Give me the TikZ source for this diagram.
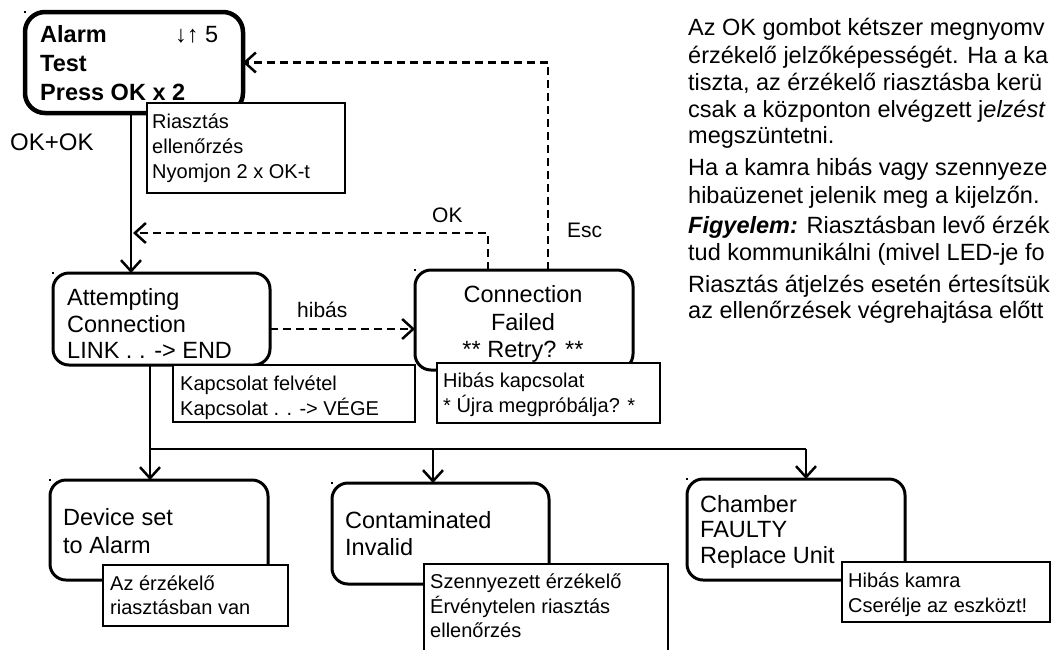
\documentclass[tikz,border=0pt]{standalone}
\usepackage{fontspec}
\setmainfont{Liberation Sans}
\usetikzlibrary{arrows.meta,calc}
\begin{document}
\begin{tikzpicture}[x=1pt,y=-1pt,
  statebox/.style={draw,line width=3pt,rounded corners=16pt,anchor=north west,inner sep=0pt,outer sep=0pt},
  notebox/.style={draw,fill=white,line width=2pt,anchor=north west,inner sep=0pt,outer sep=0pt},
  txt/.style={anchor=base west,inner sep=0pt,font=\fontsize{23.5}{27}\selectfont},
  ctxt/.style={anchor=base,inner sep=0pt,font=\fontsize{23.5}{27}\selectfont},
  ntxt/.style={anchor=base west,inner sep=0pt,font=\fontsize{20}{25}\selectfont},
  lbl/.style={anchor=base west,inner sep=0pt,font=\fontsize{21}{25}\selectfont},
  conn/.style={line width=2.5pt,-{Straight Barb[length=11pt,width=20pt]}},
  dconn/.style={conn,dash pattern=on 8pt off 5pt},
  bus/.style={line width=2.5pt},
  corner/.style={fill=black}
]
\fill[white] (0,0) rectangle (1052,649);
\useasboundingbox (0,0) rectangle (1052,649);

% ---- state boxes ----
\node[statebox,line width=4.5pt,rounded corners=20pt,minimum width=218pt,minimum height=101pt] (alarm) at (25,12) {};
\node[statebox,minimum width=217pt,minimum height=92pt] (att) at (53,273) {};
\node[statebox,minimum width=218pt,minimum height=100pt] (fail) at (415,270) {};
\node[statebox,minimum width=218pt,minimum height=100pt] (dev) at (50,480) {};
\node[statebox,minimum width=217pt,minimum height=101pt] (cont) at (332,483) {};
\node[statebox,minimum width=218pt,minimum height=101pt] (cham) at (687,479) {};

% corner marks
\foreach \b in {alarm,att,fail,dev,cont,cham}
  \fill[corner] ($(\b.north west)+(-1.5,-1.5)$) rectangle ++(2.5,2.5);

% ---- connector coordinates ----
\coordinate (vx) at (131,0);
\coordinate (okx) at (488,0);
\coordinate (escx) at (548,0);
\coordinate (oky) at (0,233);
\coordinate (hy) at (0,329);
\coordinate (bx) at (150,0);
\coordinate (cx) at (433,0);
\coordinate (fx) at (806,0);
\coordinate (busy) at (0,449);
\coordinate (okend) at (133,233);

% ---- connectors ----
\draw[conn] (alarm.south -| vx) -- (att.north -| vx);
\draw[dconn] (fail.north -| okx) |- (okend);
\draw[dconn] (fail.north -| escx) |- (alarm.east);
\draw[dconn] (att.east |- hy) -- (fail.west |- hy);
\draw[bus] (att.south -| bx) -- (bx |- busy) -- (fx |- busy);
\draw[conn] (bx |- busy) -- (dev.north -| bx);
\draw[conn] (cx |- busy) -- (cont.north -| cx);
\draw[conn] (fx |- busy) -- (cham.north -| fx);

% ---- notes ----
\node[notebox,minimum width=198pt,minimum height=90pt] (n1) at (147,103) {};
\node[notebox,minimum width=242pt,minimum height=57pt] (n2) at (173,365) {};
\node[notebox,minimum width=223pt,minimum height=60pt] (n3) at (437,363) {};
\node[notebox,minimum width=185pt,minimum height=61pt] (n4) at (103,565) {};
\node[notebox,minimum width=244pt,minimum height=100pt] (n5) at (424,564) {};
\node[notebox,minimum width=208pt,minimum height=60pt] (n6) at (842,562) {};

% ---- state texts ----
\node[txt,font=\fontsize{23.5}{27}\selectfont\bfseries] (a1) at (40,42) {Alarm};
\node[txt,font=\fontsize{23.5}{27}\selectfont] (a0) at (175,42) {↓↑ 5};
\node[txt,font=\fontsize{23.5}{27}\selectfont\bfseries] (a2) at (40,71) {Test};
\node[txt,font=\fontsize{23.5}{27}\selectfont\bfseries] (a3) at (40,100) {Press OK x 2};

\node[txt] (t1) at (67,305) {Attempting};
\node[txt] (t2) at (67,332) {Connection};
\node[txt] (t3) at (67,358) {LINK . . -> END};

\node[ctxt] (f1) at (523,302) {Connection};
\node[ctxt] (f2) at (523,330) {Failed};
\node[ctxt] (f3) at (523,357) {** Retry? **};

\node[txt] (d1) at (63,525) {Device set};
\node[txt] (d2) at (63,553) {to Alarm};

\node[txt] (c1) at (345,528) {Contaminated};
\node[txt] (c2) at (345,555) {Invalid};

\node[txt] (h1) at (700,512) {Chamber};
\node[txt] (h2) at (700,537) {FAULTY};
\node[txt] (h3) at (700,563) {Replace Unit};

% ---- note texts ----
\node[ntxt] (m1) at (152,128) {Riasztás};
\node[ntxt] (m2) at (152,153) {ellenőrzés};
\node[ntxt] (m3) at (152,178) {Nyomjon 2 x OK-t};

\node[ntxt] (k1) at (180,390) {Kapcsolat felvétel};
\node[ntxt] (k2) at (180,415) {Kapcsolat . . -> VÉGE};

\node[ntxt] (r1) at (443,387) {Hibás kapcsolat};
\node[ntxt] (r2) at (443,412) {* Újra megpróbálja? *};

\node[ntxt] (e1) at (110,590) {Az érzékelő};
\node[ntxt] (e2) at (110,614) {riasztásban van};

\node[ntxt] (s1) at (430,588) {Szennyezett érzékelő};
\node[ntxt] (s2) at (430,613) {Érvénytelen riasztás};
\node[ntxt] (s3) at (430,637) {ellenőrzés};

\node[ntxt] (k3) at (848,587) {Hibás kamra};
\node[ntxt] (k4) at (848,612) {Cserélje az eszközt!};

% ---- edge labels ----
\node[txt,font=\fontsize{24}{27}\selectfont] (lok2) at (10,150) {OK+OK};
\node[lbl] (lhib) at (297,317) {hibás};
\node[lbl] (lok) at (432,222) {OK};
\node[lbl] (lesc) at (567,237) {Esc};

% ---- description text ----
\begin{scope}[every node/.style={txt}]
\node (p1) at (688,35) {Az OK gombot kétszer megnyomv};
\node (p2) at (688,63) {érzékelő jelzőképességét. Ha a ka};
\node (p3) at (688,90) {tiszta, az érzékelő riasztásba kerü};
\node (p4) at (688,117) {csak a központon elvégzett j\textit{elzést}};
\node (p5) at (688,143) {megszüntetni.};
\node (p6) at (688,175) {Ha a kamra hibás vagy szennyeze};
\node (p7) at (688,203) {hibaüzenet jelenik meg a kijelzőn.};
\node (p8) at (688,233) {\textbf{\textit{Figyelem:}} Riasztásban levő érzék};
\node (p9) at (688,260) {tud kommunikálni (mivel LED-je fo};
\node (p10) at (688,292) {Riasztás átjelzés esetén értesítsük};
\node (p11) at (688,318) {az ellenőrzések végrehajtása előtt};
\end{scope}
\end{tikzpicture}
\end{document}
